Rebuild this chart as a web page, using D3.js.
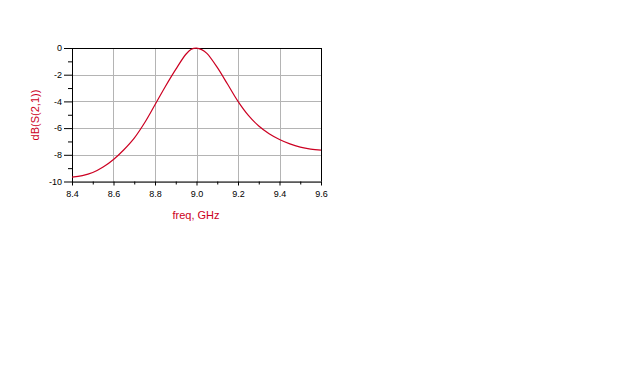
<!DOCTYPE html>
<html>
<head>
<meta charset="utf-8">
<script src="https://cdn.jsdelivr.net/npm/d3@7"></script>
<style>
  body { margin: 0; background: #fff; }
  svg { display: block; }
  .tick text { font-family: "Liberation Sans", Arial, sans-serif; font-size: 9px; fill: #000; }
</style>
</head>
<body>
<div class="graph"></div>
<script>
// values
var freq = [8.40, 8.45, 8.50, 8.55, 8.60, 8.65, 8.70, 8.75, 8.80, 8.85, 8.90, 8.95, 8.975, 9.00,
            9.025, 9.05, 9.10, 9.15, 9.20, 9.25, 9.30, 9.35, 9.40, 9.45, 9.50, 9.55, 9.60];
var dbS21 = [-9.67, -9.56, -9.33, -8.92, -8.35, -7.62, -6.75, -5.60, -4.25, -2.88, -1.60, -0.45, -0.10, -0.01,
             -0.12, -0.40, -1.45, -2.72, -4.00, -5.05, -5.84, -6.42, -6.85, -7.18, -7.42, -7.57, -7.65];
var xTicks = [8.4, 8.6, 8.8, 9.0, 9.2, 9.4, 9.6];
var xMinor = [8.5, 8.7, 8.9, 9.1, 9.3, 9.5];
var yTicks = [0, -2, -4, -6, -8, -10];
var yMinor = [-1, -3, -5, -7, -9];

var red = "#cc0022";
var W = 640, H = 384;
var pLeft = 72, pRight = 321, pTop = 48, pBottom = 181.5;

var svg = d3.select(".graph").append("svg").attr("width", W).attr("height", H);

var x = d3.scaleLinear().domain([8.4, 9.6]).range([pLeft, pRight]);
var y = d3.scaleLinear().domain([-10, 0]).range([pBottom, pTop]);

var data = freq.map(function (f, i) { return { f: f, v: dbS21[i] }; });

// grid
var g = svg.append("g");
g.selectAll(".gx").data(xTicks).enter().append("line")
  .attr("x1", function (d) { return Math.round(x(d)) + 0.5; })
  .attr("x2", function (d) { return Math.round(x(d)) + 0.5; })
  .attr("y1", pTop).attr("y2", pBottom)
  .attr("stroke", "#b4b4b4").attr("stroke-width", 1);
g.selectAll(".gy").data(yTicks).enter().append("line")
  .attr("y1", function (d) { return Math.round(y(d)) + 0.5; })
  .attr("y2", function (d) { return Math.round(y(d)) + 0.5; })
  .attr("x1", pLeft).attr("x2", pRight)
  .attr("stroke", "#b4b4b4").attr("stroke-width", 1);

// axes
var xAxis = d3.axisBottom(x).tickValues(xTicks).tickFormat(d3.format(".1f")).tickSizeInner(4).tickSizeOuter(0).tickPadding(5);
var yAxis = d3.axisLeft(y).tickValues(yTicks).tickFormat(function (d) { return String(d); })
  .tickSizeInner(8).tickSizeOuter(0).tickPadding(2);

svg.append("g").attr("transform", "translate(0," + pBottom + ")").call(xAxis);
svg.append("g").attr("transform", "translate(" + pLeft + ",0)").call(yAxis);

// minor ticks
svg.append("g").attr("transform", "translate(0," + pBottom + ")")
  .call(d3.axisBottom(x).tickValues(xMinor).tickFormat("").tickSizeInner(3).tickSizeOuter(0))
  .select(".domain").remove();
svg.append("g").attr("transform", "translate(" + pLeft + ",0)")
  .call(d3.axisLeft(y).tickValues(yMinor).tickFormat("").tickSizeInner(4).tickSizeOuter(0))
  .select(".domain").remove();

// frame top and right
svg.append("line").attr("x1", pLeft).attr("x2", pRight).attr("y1", pTop + 0.5).attr("y2", pTop + 0.5).attr("stroke", "#000");
svg.append("line").attr("x1", pRight + 0.5).attr("x2", pRight + 0.5).attr("y1", pTop).attr("y2", pBottom).attr("stroke", "#000");

// curve
var line = d3.line().x(function (d) { return x(d.f); }).y(function (d) { return y(d.v); }).curve(d3.curveCatmullRom);
svg.append("path").datum(data).attr("d", line)
  .attr("fill", "none").attr("stroke", red).attr("stroke-width", 1.2);

// axis titles
svg.append("text").attr("x", 196).attr("y", 219).attr("text-anchor", "middle")
  .attr("font-family", "Liberation Sans, Arial, sans-serif").attr("font-size", 11).attr("fill", red)
  .text("freq, GHz");
svg.append("text").attr("transform", "translate(39,115) rotate(-90)").attr("text-anchor", "middle")
  .attr("font-family", "Liberation Sans, Arial, sans-serif").attr("font-size", 11).attr("fill", red)
  .text("dB(S(2,1))");
</script>
</body>
</html>
